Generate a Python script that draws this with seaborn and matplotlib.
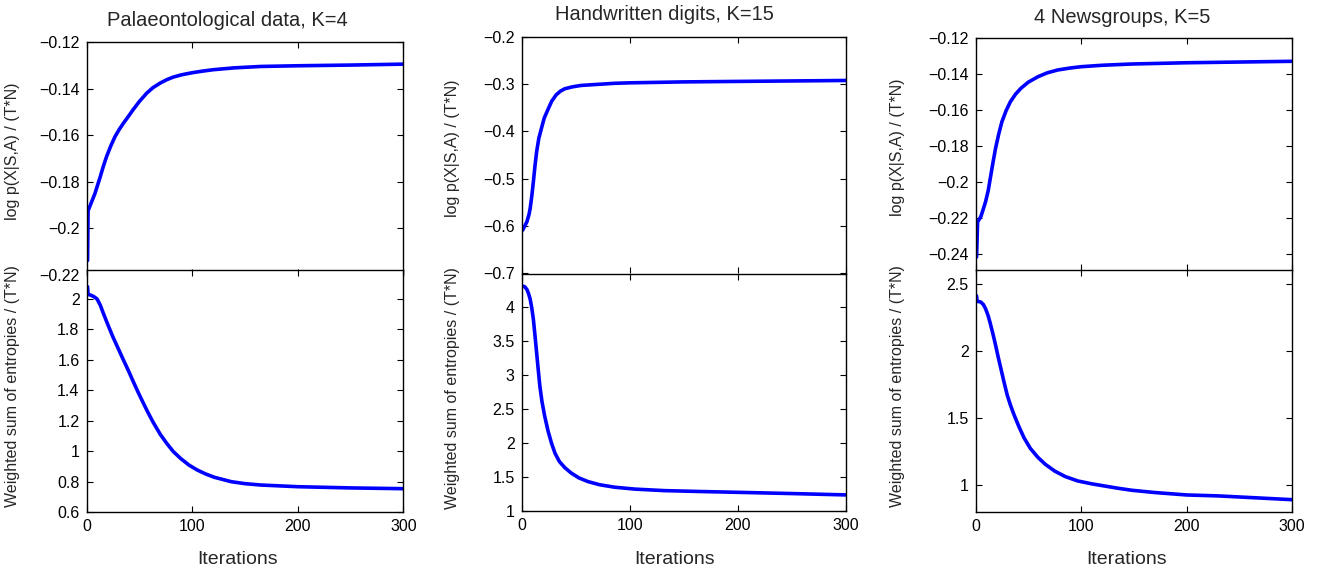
import numpy as np
import pandas as pd
import matplotlib
matplotlib.use("Agg")
import matplotlib.pyplot as plt
from matplotlib.ticker import FuncFormatter
import seaborn as sns

# ---------------- data ----------------
titles = ["Palaeontological data, K=4", "Handwritten digits, K=15", "4 Newsgroups, K=5"]
top_ylabel = "log p(X|S,A) / (T*N)"
bottom_ylabel = "Weighted sum of entropies / (T*N)"
xlabel = "Iterations"

# Palaeontological data
palaeo_loglik_it = [1, 1.5, 3, 5, 8, 10, 13, 16, 19, 23, 27, 31, 35, 40, 44, 50, 57, 63, 70, 76,
                    82, 90, 100, 110, 120, 140, 165, 200, 250, 300]
palaeo_loglik = [-0.2139, -0.1925, -0.1908, -0.1885, -0.1851, -0.1822, -0.1779, -0.1733, -0.1692,
                 -0.1646, -0.1606, -0.1575, -0.1548, -0.1517, -0.1491, -0.1455, -0.1419, -0.1395,
                 -0.1375, -0.1361, -0.1350, -0.1340, -0.1331, -0.1324, -0.1318, -0.1310, -0.1304,
                 -0.1301, -0.1298, -0.1294]
palaeo_entropy_it = [1, 1.5, 4, 7, 10, 13, 16, 20, 25, 30, 35, 40, 44, 49, 54, 58, 63, 70, 76, 82,
                     89, 97, 105, 113, 121, 137, 150, 165, 200, 250, 300]
palaeo_entropy = [2.08, 2.03, 2.025, 2.015, 2.00, 1.96, 1.905, 1.835, 1.751, 1.675, 1.599, 1.525,
                  1.462, 1.386, 1.314, 1.258, 1.192, 1.11, 1.052, 1.00, 0.954, 0.91, 0.877, 0.851,
                  0.830, 0.801, 0.788, 0.779, 0.768, 0.760, 0.755]

# Handwritten digits
digits_loglik_it = [1, 3, 5, 7, 8, 9.5, 11, 12.5, 14, 16, 18.5, 21, 25, 28, 32, 36, 40, 47, 55,
                    70, 86, 100, 150, 200, 250, 300]
digits_loglik = [-0.609, -0.600, -0.591, -0.575, -0.563, -0.537, -0.506, -0.472, -0.443, -0.415,
                 -0.393, -0.372, -0.351, -0.336, -0.323, -0.315, -0.310, -0.306, -0.303, -0.3008,
                 -0.2985, -0.2975, -0.2955, -0.2945, -0.2935, -0.2925]
digits_entropy_it = [1, 3, 5, 6.5, 8, 9.5, 11, 12.5, 14, 15.5, 17, 19, 21.5, 24.5, 27.7, 31, 35,
                     40, 46, 53, 61.5, 72, 86, 105, 132, 165, 200, 250, 300]
digits_entropy = [4.30, 4.29, 4.25, 4.19, 4.11, 3.98, 3.81, 3.57, 3.32, 3.07, 2.83, 2.60, 2.39,
                  2.18, 2.00, 1.85, 1.73, 1.64, 1.56, 1.49, 1.435, 1.39, 1.353, 1.325, 1.303,
                  1.29, 1.278, 1.26, 1.24]

# 4 Newsgroups
news_loglik_it = [1, 2, 5, 7, 9.5, 12, 14, 16.5, 19, 22, 25, 29, 33, 38, 43, 50, 59, 68, 78, 90,
                  100, 120, 148, 200, 250, 300]
news_loglik = [-0.2417, -0.2222, -0.2194, -0.2158, -0.2111, -0.2050, -0.1981, -0.1895, -0.1814,
               -0.1735, -0.1667, -0.1605, -0.1556, -0.1513, -0.1481, -0.1447, -0.1417, -0.1395,
               -0.1379, -0.1368, -0.1361, -0.1353, -0.1346, -0.1339, -0.1335, -0.1331]
news_entropy_it = [1, 1.5, 5, 7.5, 9.5, 12, 14, 16.5, 19, 21.5, 24, 27, 30, 33, 36.5, 41, 46, 52,
                   59, 66, 75, 85, 97, 110, 122, 135, 148, 170, 200, 230, 250, 300]
news_entropy = [2.41, 2.37, 2.364, 2.345, 2.315, 2.262, 2.205, 2.128, 2.044, 1.955, 1.871, 1.77,
                1.674, 1.60, 1.526, 1.44, 1.354, 1.275, 1.21, 1.158, 1.107, 1.066, 1.033, 1.012,
                0.996, 0.979, 0.964, 0.947, 0.929, 0.922, 0.914, 0.894]

x_ticks = [0, 100, 200, 300]
top_yticks = [[-0.22, -0.20, -0.18, -0.16, -0.14, -0.12],
              [-0.7, -0.6, -0.5, -0.4, -0.3, -0.2],
              [-0.24, -0.22, -0.20, -0.18, -0.16, -0.14, -0.12]]
bottom_yticks = [[0.6, 0.8, 1.0, 1.2, 1.4, 1.6, 1.8, 2.0],
                 [1, 1.5, 2, 2.5, 3, 3.5, 4],
                 [1, 1.5, 2, 2.5]]

# ---------------- style ----------------
sns.set_style("ticks", {"xtick.direction": "in", "ytick.direction": "in"})
plt.rcParams["font.family"] = ["Liberation Sans", "DejaVu Sans"]
plt.rcParams["axes.unicode_minus"] = True

W, H = 1318, 573
fig = plt.figure(figsize=(W / 100, H / 100), dpi=100)


def px_rect(x0, x1, y_top, y_bot):
    return [x0 / W, 1 - y_bot / H, (x1 - x0) / W, (y_bot - y_top) / H]


# layout (pixels): left, right, top-panel top/bottom, bottom-panel top/bottom
layout = [
    dict(x0=86.5, x1=403.3, tt=42.3, tb=274.6, bt=270.0, bb=512.3,
         top_ylim=(-0.22, -0.12), bot_ylim=(0.6, 2.19), title_x=227.5, title_y=21, xlab_x=238,
         ylab_x=20),
    dict(x0=521.5, x1=846.0, tt=36.7, tb=273.3, bt=273.5, bb=511.3,
         top_ylim=(-0.7, -0.2), bot_ylim=(1.0, 4.484), title_x=664, title_y=15, xlab_x=675,
         ylab_x=460),
    dict(x0=975.5, x1=1292.0, tt=37.7, tb=270.0, bt=270.3, bb=512.3,
         top_ylim=(-0.2489, -0.12), bot_ylim=(0.8, 2.6), title_x=1121.7, title_y=18, xlab_x=1127,
         ylab_x=905),
]

top_data = [(palaeo_loglik_it, palaeo_loglik), (digits_loglik_it, digits_loglik),
            (news_loglik_it, news_loglik)]
bot_data = [(palaeo_entropy_it, palaeo_entropy), (digits_entropy_it, digits_entropy),
            (news_entropy_it, news_entropy)]

fmt = FuncFormatter(lambda v, p: ("%g" % round(v, 4)).replace("-", "\u2212"))
tick_fs = 11.5
label_fs = 11.5


def style_axes(ax):
    for s in ax.spines.values():
        s.set_visible(True)
        s.set_color("black")
        s.set_linewidth(1.0)
    ax.tick_params(which="both", direction="in", top=True, right=True, length=4,
                   width=0.8, labelsize=tick_fs, colors="black", pad=5)
    ax.set_xlim(0, 300)
    ax.set_xticks(x_ticks)


for i, L in enumerate(layout):
    wpx = L["x1"] - L["x0"]
    # top panel
    ax_t = fig.add_axes(px_rect(L["x0"], L["x1"], L["tt"], L["tb"]))
    xs, ys = top_data[i]
    sns.lineplot(x=xs, y=ys, ax=ax_t, color="#0000ff", linewidth=2.6, estimator=None, sort=False)
    style_axes(ax_t)
    ax_t.spines["bottom"].set_visible(False)
    ax_t.set_ylim(*L["top_ylim"])
    ax_t.set_yticks(top_yticks[i])
    ax_t.yaxis.set_major_formatter(fmt)
    ax_t.set_xticklabels([])
    ax_t.set_xlabel("")
    ax_t.set_ylabel(top_ylabel, fontsize=label_fs)
    hpx_t = L["tb"] - L["tt"]
    ax_t.yaxis.set_label_coords((L["ylab_x"] - L["x0"]) / wpx, 0.53)
    ax_t.set_title(titles[i], fontsize=14.5, pad=0,
                   x=(L["title_x"] - L["x0"]) / wpx,
                   y=(L["tb"] - L["title_y"]) / hpx_t, va="center")

    # bottom panel
    ax_b = fig.add_axes(px_rect(L["x0"], L["x1"], L["bt"], L["bb"]))
    ax_b.set_facecolor("white")
    ax_b.set_zorder(2)
    xs, ys = bot_data[i]
    sns.lineplot(x=xs, y=ys, ax=ax_b, color="#0000ff", linewidth=2.6, estimator=None, sort=False)
    style_axes(ax_b)
    ax_b.set_ylim(*L["bot_ylim"])
    ax_b.set_yticks(bottom_yticks[i])
    ax_b.yaxis.set_major_formatter(fmt)
    ax_b.xaxis.set_major_formatter(fmt)
    ax_b.set_ylabel(bottom_ylabel, fontsize=label_fs)
    ax_b.set_xlabel(xlabel, fontsize=14)
    hpx_b = L["bb"] - L["bt"]
    ax_b.yaxis.set_label_coords((L["ylab_x"] - L["x0"]) / wpx, 0.52)
    ax_b.xaxis.set_label_coords((L["xlab_x"] - L["x0"]) / wpx, -(560 - L["bb"]) / hpx_b)
    ax_b.xaxis.label.set_va("center")

fig.savefig("out.png", dpi=100, facecolor="white")
